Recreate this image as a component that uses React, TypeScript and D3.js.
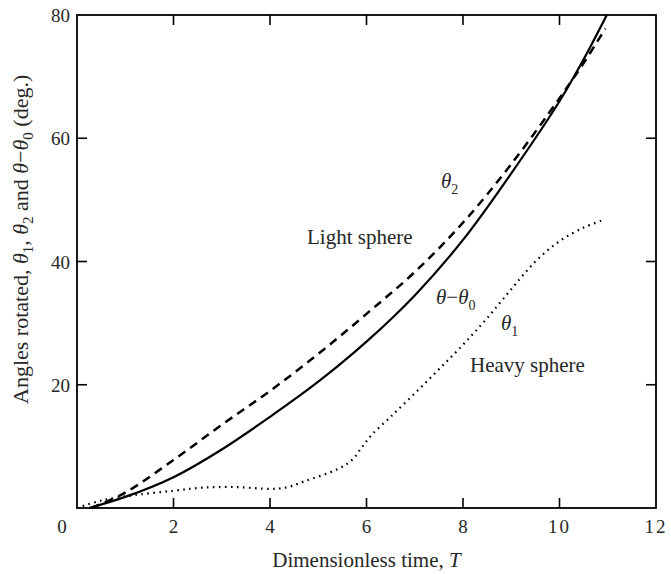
import React from "react";
import * as d3 from "d3";

// Dimensionless time T and rotation angles (degrees)
const solidT = [0.25, 1, 2, 3, 4, 5, 6, 7, 8, 9, 10, 10.5, 10.98];
const solidV = [0, 1.8, 5, 9.5, 14.8, 20.5, 27, 34.5, 43.5, 54.3, 66, 72.8, 80];

const dashedT = [0.3, 1, 2, 3, 4, 5, 6, 7, 8, 9, 10, 10.5, 10.95];
const dashedV = [0, 2.5, 7.8, 13.5, 19, 25, 31.5, 38.3, 46.3, 55.8, 66.5, 72.2, 77.8];

const dottedT = [0, 0.5, 1.2, 2, 2.6, 3.3, 4.0, 4.35, 4.7, 5.4, 5.7, 5.9, 6.1, 6.5, 7, 7.5, 8, 8.5, 9, 9.5, 10, 10.5, 10.9];
const dottedV = [0, 1.2, 2.1, 2.8, 3.3, 3.4, 3.1, 3.35, 4.3, 6.3, 7.8, 9.8, 11.8, 14.8, 18.6, 22.5, 26.5, 30.8, 35.5, 40, 43.3, 45.5, 46.7];

const xTicks = [2, 4, 6, 8, 10, 12];
const yTicks = [20, 40, 60, 80];
const xInnerTicks = [2, 4, 6, 8, 10];
const yInnerTicks = [20, 40, 60];

const W = 671;
const H = 574;
const left = 77;
const right = 656;
const top = 15;
const bottom = 508;

const x = d3.scaleLinear().domain([0, 12]).range([left, right]);
const y = d3.scaleLinear().domain([0, 80]).range([bottom, top]);

const line = d3
  .line<[number, number]>()
  .x((d) => x(d[0]))
  .y((d) => y(d[1]))
  .curve(d3.curveCatmullRom.alpha(0.5));

const zip = (a: number[], b: number[]) => a.map((t, i) => [t, b[i]] as [number, number]);

const FONT = "Liberation Serif";
const TEXT = "#262626";

export default function App() {
  const tick = 10;
  const tp = { fontFamily: FONT, fill: TEXT };
  return (
    <svg width={W} height={H} style={{ position: "absolute", left: 0, top: 0, background: "#fff", fontFamily: FONT }}>
      <rect width={W} height={H} fill="#fff" />

      {/* curves */}
      <path d={line(zip(solidT, solidV)) || ""} fill="none" stroke="#000" strokeWidth={2.2} />
      <path
        d={line(zip(dashedT, dashedV)) || ""}
        fill="none"
        stroke="#000"
        strokeWidth={2.5}
        strokeDasharray="8.5 6"
      />
      <path
        d={line(zip(dottedT, dottedV)) || ""}
        fill="none"
        stroke="#000"
        strokeWidth={2.2}
        strokeDasharray="1.6 4.4"
      />

      {/* frame */}
      <rect x={left} y={top} width={right - left} height={bottom - top} fill="none" stroke="#000" strokeWidth={1.8} />

      {/* inward ticks */}
      {xInnerTicks.map((t) => (
        <g key={"xt" + t}>
          <line x1={x(t)} x2={x(t)} y1={bottom} y2={bottom - tick} stroke="#000" strokeWidth={1.6} />
          <line x1={x(t)} x2={x(t)} y1={top} y2={top + tick} stroke="#000" strokeWidth={1.6} />
        </g>
      ))}
      {yInnerTicks.map((t) => (
        <g key={"yt" + t}>
          <line x1={left} x2={left + tick} y1={y(t)} y2={y(t)} stroke="#000" strokeWidth={1.6} />
          <line x1={right} x2={right - tick} y1={y(t)} y2={y(t)} stroke="#000" strokeWidth={1.6} />
        </g>
      ))}

      {/* tick labels */}
      <text {...tp} x={62} y={533} fontSize={19} textAnchor="middle">0</text>
      {xTicks.map((t) => (
        <text key={"xl" + t} {...tp} x={x(t)} y={533} fontSize={19} textAnchor="middle" letterSpacing={t >= 10 ? 2 : 0}>
          {t}
        </text>
      ))}
      {yTicks.map((t) => (
        <text key={"yl" + t} {...tp} x={70} y={y(t) + 7} fontSize={19} textAnchor="end">
          {t}
        </text>
      ))}

      {/* axis titles */}
      <text {...tp} x={(left + right) / 2} y={567} fontSize={21} textAnchor="middle">
        Dimensionless time, <tspan fontStyle="italic">T</tspan>
      </text>
      <text {...tp} transform={`translate(28, 404) rotate(-90)`} fontSize={22} textAnchor="start">
        Angles rotated, <tspan fontStyle="italic">θ</tspan>
        <tspan fontSize={15} dy={5}>1</tspan>
        <tspan dy={-5}>, </tspan>
        <tspan fontStyle="italic">θ</tspan>
        <tspan fontSize={15} dy={5}>2</tspan>
        <tspan dy={-5}> and </tspan>
        <tspan fontStyle="italic">θ</tspan>
        <tspan>−</tspan>
        <tspan fontStyle="italic">θ</tspan>
        <tspan fontSize={15} dy={5}>0</tspan>
        <tspan dy={-5}> (deg.)</tspan>
      </text>

      {/* curve annotations */}
      <text {...tp} x={441} y={188} fontSize={21}>
        <tspan fontStyle="italic">θ</tspan>
        <tspan fontSize={14} dy={6}>2</tspan>
      </text>
      <text {...tp} x={307} y={244} fontSize={21}>Light sphere</text>
      <text {...tp} x={436} y={304} fontSize={21}>
        <tspan fontStyle="italic">θ</tspan>
        <tspan>−</tspan>
        <tspan fontStyle="italic">θ</tspan>
        <tspan fontSize={14} dy={6}>0</tspan>
      </text>
      <text {...tp} x={501} y={330} fontSize={21}>
        <tspan fontStyle="italic">θ</tspan>
        <tspan fontSize={14} dy={6}>1</tspan>
      </text>
      <text {...tp} x={470} y={372} fontSize={21}>Heavy sphere</text>
    </svg>
  );
}
